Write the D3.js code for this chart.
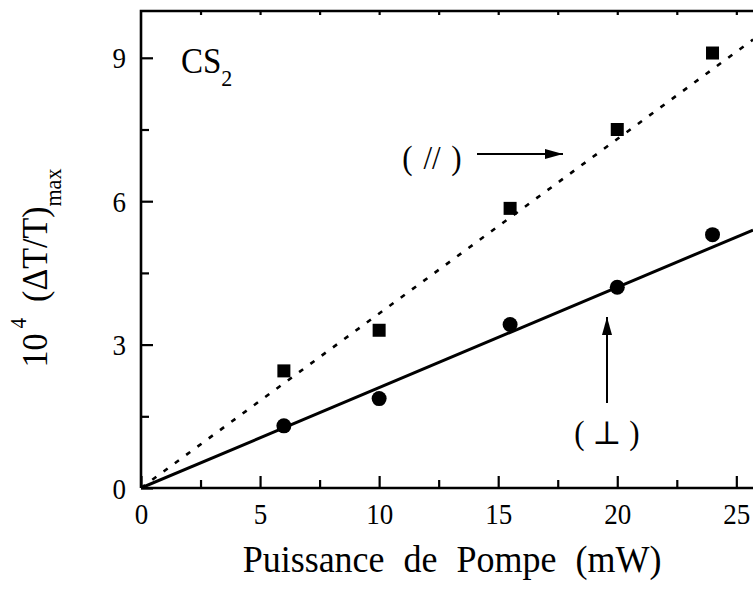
<!DOCTYPE html>
<html><head><meta charset="utf-8">
<script src="https://cdn.jsdelivr.net/npm/d3@7"></script>
<style>body{margin:0;background:#fff}svg{display:block}svg text{font-family:'Liberation Serif','DejaVu Serif',serif !important;fill:#000}</style>
</head><body><svg id="c" width="753" height="590"></svg>
<script>
const power = [6, 10, 15.5, 20, 24];
const parallelVals = [2.45, 3.3, 5.85, 7.5, 9.1];
const perpVals = [1.3, 1.87, 3.42, 4.2, 5.3];
const fitSlopes = {parallel: 0.365, perp: 0.21};
const xTicks = [0, 5, 10, 15, 20, 25];
const xMinorTicks = [2.5, 7.5, 12.5, 17.5, 22.5];
const yTicks = [0, 3, 6, 9];
const yMinorTicks = [1.5, 4.5, 7.5];

const FONT = "'Liberation Serif','DejaVu Serif',serif";
const ST = 1.06; // slight vertical stretch of glyphs in the reference
const svg = d3.select("#c");
const L = 141, T = 11, B = 488, RW = 753;
const x = d3.scaleLinear().domain([0, 25.7]).range([L, RW]);
const y = d3.scaleLinear().domain([0, 10]).range([B, 10]);

function stext(parent, px, py, fs, rot) {
  return parent.append("text")
    .attr("transform", `translate(${px},${py})` + (rot ? ` rotate(${rot})` : "") + ` scale(1,${ST})`)
    .attr("font-family", FONT)
    .style("font-size", fs + "px");
}

// fit lines
svg.append("clipPath").attr("id","pc").append("rect").attr("x",L).attr("y",T).attr("width",RW-L).attr("height",B-T);
const g = svg.append("g").attr("clip-path","url(#pc)");
const xEnd = x.domain()[1];
g.append("line").attr("x1",x(0)).attr("y1",y(0)).attr("x2",x(xEnd)).attr("y2",y(fitSlopes.parallel*xEnd))
 .attr("stroke","#000").attr("stroke-width",2.6).attr("stroke-dasharray","5,9");
g.append("line").attr("x1",x(0)).attr("y1",y(0)).attr("x2",x(xEnd)).attr("y2",y(fitSlopes.perp*xEnd))
 .attr("stroke","#000").attr("stroke-width",3);

// markers
const s = 13;
svg.selectAll("rect.sq").data(power.map((p,i)=>[p,parallelVals[i]])).join("rect").attr("class","sq")
 .attr("x",d=>x(d[0])-s/2).attr("y",d=>y(d[1])-s/2).attr("width",s).attr("height",s).attr("fill","#000");
svg.selectAll("circle.ci").data(power.map((p,i)=>[p,perpVals[i]])).join("circle").attr("class","ci")
 .attr("cx",d=>x(d[0])).attr("cy",d=>y(d[1])).attr("r",7.5).attr("fill","#000");

// axes
const TF = 27;
const xAx = svg.append("g").attr("transform",`translate(0,${B})`)
 .call(d3.axisBottom(x).tickValues(xTicks).tickSize(-12).tickFormat(d3.format("d")));
const xMinor = svg.append("g").attr("transform",`translate(0,${B})`)
 .call(d3.axisBottom(x).tickValues(xMinorTicks).tickSize(-8).tickFormat(""));
const yAx = svg.append("g").attr("transform",`translate(${L},0)`)
 .call(d3.axisLeft(y).tickValues(yTicks).tickSize(-12));
const yMinor = svg.append("g").attr("transform",`translate(${L},0)`)
 .call(d3.axisLeft(y).tickValues(yMinorTicks).tickSize(-8).tickFormat(""));
const topAx = svg.append("g").attr("transform",`translate(0,${T})`)
 .call(d3.axisTop(x).tickValues(xTicks.concat(xMinorTicks).filter(v=>v>0)).tickSize(-4).tickFormat(""));
[xAx,xMinor,yAx,yMinor,topAx].forEach(a=>{
  a.attr("font-family", FONT);
  a.select(".domain").remove();
  a.selectAll(".tick line").attr("stroke","#000").attr("stroke-width",2.2);
  a.selectAll("text").attr("font-family", FONT).style("font-size",TF+"px").attr("fill","#000").attr("x",null).attr("y",null).attr("dy",null);
});
xAx.selectAll("text").attr("transform",`translate(0,36) scale(1,${ST})`);
yAx.selectAll("text").attr("text-anchor","end").attr("transform",`translate(-15,10) scale(1,${ST})`);

// frame
svg.append("path").attr("d",`M${L},${B}H${RW}M${L},${B}V${T}H${RW}`).attr("fill","none").attr("stroke","#000").attr("stroke-width",2.6);

// axis titles
stext(svg, 452, 572, 36).attr("text-anchor","middle").style("word-spacing","10px").text("Puissance de Pompe (mW)");
const yt = stext(svg, 47, 268, 34, -90).attr("text-anchor","middle");
yt.append("tspan").text("10");
yt.append("tspan").attr("dx",5).attr("dy",-20).style("font-size","21px").text("4");
yt.append("tspan").attr("dx",16).attr("dy",20).text("(ΔT/T)");
yt.append("tspan").attr("dy",13).style("font-size","22px").text("max");

// CS2 label
const cs = stext(svg, 181, 73, 33);
cs.append("tspan").text("CS");
cs.append("tspan").attr("dy",12).style("font-size","22px").text("2");

// annotations
const defs = svg.append("defs");
defs.append("marker").attr("id","ah").attr("viewBox","0 0 18 10").attr("refX",18).attr("refY",5)
 .attr("markerWidth",18).attr("markerHeight",10).attr("markerUnits","userSpaceOnUse").attr("orient","auto")
 .append("path").attr("d","M0,0L18,5L0,10Z").attr("fill","#000");
stext(svg, 432, 169, 31).attr("text-anchor","middle").style("word-spacing","3px").text("( // )");
svg.append("line").attr("x1",477).attr("y1",154).attr("x2",563).attr("y2",154).attr("stroke","#000").attr("stroke-width",2).attr("marker-end","url(#ah)");
stext(svg, 607, 444, 31).attr("text-anchor","middle").text("( ⊥ )");
svg.append("line").attr("x1",607).attr("y1",403).attr("x2",607).attr("y2",317).attr("stroke","#000").attr("stroke-width",2).attr("marker-end","url(#ah)");
</script></body></html>
